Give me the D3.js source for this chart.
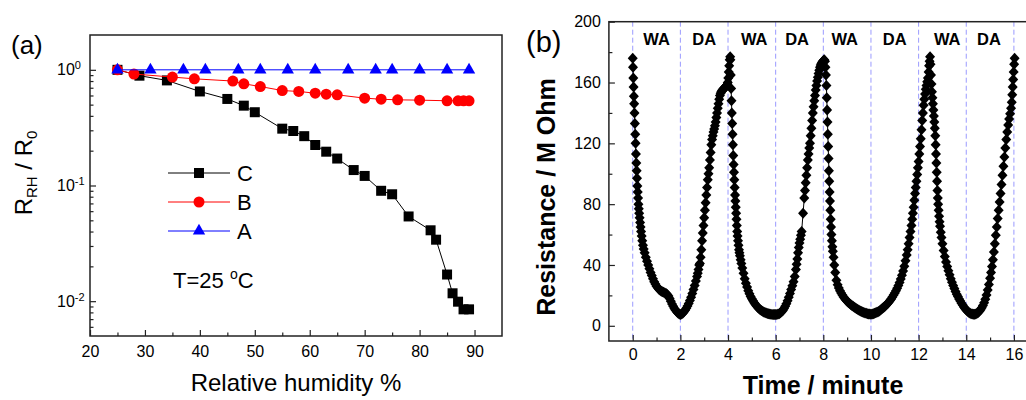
<!DOCTYPE html>
<html><head><meta charset="utf-8">
<script src="https://cdn.jsdelivr.net/npm/d3@7"></script>
<style>body{margin:0;background:#fff}svg{display:block;font-family:"Liberation Sans",Arial,sans-serif}</style>
</head><body><svg id="c" width="1026" height="400"></svg>
<script>
// ---------- Panel (a) data ----------
const humidityC = [25,29,34,40,45,48,50,55,57,59,61,63,65,68,70,73,75,78,82,83,85,86,87,88,89];
const ratioC = [1.0,0.89,0.81,0.65,0.56,0.49,0.43,0.31,0.296,0.267,0.224,0.196,0.171,0.136,0.121,0.090,0.084,0.054,0.041,0.034,0.017,0.0117,0.0099,0.0085,0.0085];
const humidityB = [25,28,35,39,46,48,51,55,58,61,63,65,70,73,76,80,85,87,88,89];
const ratioB = [1.0,0.92,0.865,0.836,0.80,0.757,0.717,0.662,0.65,0.628,0.616,0.608,0.569,0.557,0.55,0.547,0.54,0.54,0.54,0.54];
const humidityA = [25,31,37,41,47,51,56,61,67,72,75,80,85,89];
const ratioA = [1,1,1,1,1,1,1,1,1,1,1,1,1,1];
const seriesNamesA = ["C","B","A"];
const xTicksA = [20,30,40,50,60,70,80,90];
const xMinorA = [25,35,45,55,65,75,85];
const yMajorExpA = [0,-1,-2];
const yMinorA = [0.006,0.007,0.008,0.009,0.02,0.03,0.04,0.05,0.06,0.07,0.08,0.09,0.2,0.3,0.4,0.5,0.6,0.7,0.8,0.9];

// ---------- Panel (b) data: [time (min), resistance (MOhm)] ----------
const wa1 = [[0,176],[0.012,170],[0.024,163],[0.036,157],[0.048,151],[0.06,146],[0.075,140],[0.09,133],[0.105,126],[0.12,120],[0.135,113],[0.15,107],[0.165,102],[0.18,97],[0.195,92],[0.21,88],[0.225,84],[0.24,80],[0.255,77],[0.27,74],[0.29,71],[0.31,68],[0.33,65],[0.35,62],[0.375,59],[0.4,56],[0.43,53],[0.46,50.5],[0.5,48],[0.55,45],[0.6,42.5],[0.65,40],[0.7,37.5],[0.75,35],[0.8,33],[0.85,31],[0.9,29],[0.95,27.5],[1.0,26],[1.05,25],[1.1,24],[1.15,23.3],[1.2,22.8],[1.25,22.4],[1.3,22],[1.35,21.6],[1.4,21.2],[1.45,20.6],[1.5,19.6],[1.55,18],[1.6,16.2],[1.65,14.4],[1.7,12.8],[1.75,11.4],[1.8,10.2],[1.85,9.2],[1.9,8.4],[1.95,7.8]];
const da1 = [[2.0,7.5],[2.05,7.7],[2.1,8.3],[2.15,9.2],[2.2,10.3],[2.25,11.6],[2.3,13],[2.35,14.7],[2.4,16.6],[2.45,18.8],[2.5,21.2],[2.55,23.8],[2.6,26.5],[2.65,29.5],[2.7,32.5],[2.73,34.5],[2.76,37],[2.79,40],[2.82,41],[2.85,45],[2.88,50],[2.91,56],[2.94,61],[2.97,66],[3.0,71],[3.03,76],[3.06,81],[3.09,86],[3.12,91],[3.15,96],[3.18,100],[3.21,104],[3.24,109],[3.27,114],[3.3,119],[3.33,122.5],[3.36,125],[3.39,127.5],[3.42,129.5],[3.45,131.5],[3.48,134],[3.51,137],[3.54,140],[3.57,143],[3.6,146],[3.63,149],[3.66,151.5],[3.69,153],[3.72,154],[3.75,154.8],[3.78,155.4],[3.81,155.8],[3.84,156.3],[3.87,156.8],[3.9,157.2],[3.93,157.6],[3.96,158.5],[3.99,160],[4.01,163],[4.03,167],[4.05,171],[4.07,175],[4.09,177]];
const wa2 = [[4.1,175],[4.115,165],[4.13,156],[4.145,148],[4.16,140],[4.175,133],[4.19,126],[4.205,119],[4.22,112],[4.235,106],[4.25,101],[4.265,96],[4.28,91],[4.295,86],[4.31,82],[4.325,78],[4.34,74],[4.355,70],[4.37,66],[4.385,62],[4.4,59],[4.42,56],[4.44,53],[4.46,50],[4.48,48],[4.5,46],[4.53,43.5],[4.56,41],[4.6,38],[4.65,34.5],[4.7,31],[4.75,28],[4.8,25.5],[4.85,23],[4.9,21],[4.95,19.3],[5.0,17.8],[5.05,16.4],[5.1,15.1],[5.15,14],[5.2,13],[5.25,12.1],[5.3,11.3],[5.35,10.6],[5.4,10],[5.45,9.5],[5.5,9.1],[5.55,8.7],[5.6,8.4],[5.65,8.1],[5.7,7.9],[5.75,7.7],[5.8,7.6],[5.85,7.5],[5.9,7.4],[5.95,7.4]];
const da2 = [[6.0,7.4],[6.05,7.5],[6.1,7.7],[6.15,8],[6.2,8.5],[6.25,9.2],[6.3,10.1],[6.35,11.3],[6.4,12.8],[6.45,14.5],[6.5,16.5],[6.55,18.8],[6.6,21.3],[6.65,23.8],[6.7,26.3],[6.75,29],[6.8,32.5],[6.85,37],[6.88,40.5],[6.91,44],[6.94,48],[6.97,51.5],[7.0,54.5],[7.03,57],[7.06,59.5],[7.09,62],[7.15,74],[7.2,84],[7.23,89],[7.26,94],[7.29,99],[7.32,104],[7.35,109],[7.38,113],[7.41,117],[7.44,120],[7.47,125],[7.5,130],[7.53,135],[7.56,140],[7.59,144],[7.62,148],[7.65,151.5],[7.68,155],[7.71,158],[7.74,161],[7.77,163.5],[7.8,166],[7.83,168],[7.86,170],[7.89,171.5],[7.92,172.5],[7.95,173.3],[7.98,174],[8.01,174.5],[8.04,175]];
const wa3 = [[8.07,174],[8.09,170],[8.11,165],[8.13,158],[8.145,150],[8.16,142],[8.175,134],[8.19,126],[8.205,118],[8.22,110],[8.235,102],[8.25,95],[8.265,88],[8.28,82],[8.295,76],[8.31,70],[8.325,65],[8.34,60],[8.36,56],[8.38,52],[8.4,49],[8.43,45],[8.46,40],[8.5,35],[8.55,30],[8.6,27],[8.65,24.8],[8.7,23],[8.75,21.5],[8.8,20.2],[8.85,19],[8.9,18],[8.95,17],[9.0,16.2],[9.05,15.4],[9.1,14.7],[9.15,14],[9.2,13.4],[9.25,12.8],[9.3,12.2],[9.35,11.7],[9.4,11.2],[9.45,10.7],[9.5,10.2],[9.55,9.8],[9.6,9.4],[9.65,9],[9.7,8.7],[9.75,8.4],[9.8,8.2],[9.85,8],[9.9,7.8],[9.95,7.7]];
const da3 = [[10.0,7.6],[10.05,7.7],[10.1,7.9],[10.15,8.2],[10.2,8.5],[10.25,8.9],[10.3,9.3],[10.35,9.8],[10.4,10.4],[10.45,11],[10.5,11.7],[10.55,12.4],[10.6,13.1],[10.65,13.9],[10.7,14.7],[10.75,15.6],[10.8,16.6],[10.85,17.7],[10.9,18.9],[10.95,20.2],[11.0,21.6],[11.05,23.1],[11.1,24.7],[11.15,26.5],[11.2,28.5],[11.25,30.7],[11.3,33.2],[11.35,36],[11.4,39.2],[11.45,42.7],[11.5,46.5],[11.54,50],[11.58,54],[11.62,58],[11.66,62],[11.7,66],[11.73,70],[11.76,74],[11.79,78],[11.82,82.5],[11.85,87],[11.88,91],[11.91,95],[11.94,99.5],[11.97,104],[12.0,108],[12.03,113],[12.06,118],[12.09,123],[12.12,129],[12.15,135],[12.18,140],[12.21,145],[12.24,149],[12.27,152.5],[12.3,155.5],[12.33,158],[12.36,160.5],[12.39,163],[12.42,167],[12.44,171],[12.46,174],[12.48,177]];
const wa4 = [[12.5,172],[12.52,165],[12.54,159],[12.56,154],[12.58,150],[12.6,146],[12.62,142],[12.64,138],[12.66,134],[12.68,130],[12.7,125],[12.715,119],[12.73,113],[12.745,107],[12.76,101],[12.775,95],[12.79,89],[12.805,84],[12.82,80],[12.84,76],[12.86,72],[12.88,68.5],[12.9,65.5],[12.93,61.5],[12.96,58],[13.0,54],[13.05,49.5],[13.1,45.5],[13.15,42],[13.2,39],[13.25,36.2],[13.3,33.5],[13.35,31],[13.4,28.7],[13.45,26.5],[13.5,24.5],[13.55,22.6],[13.6,20.8],[13.65,19.2],[13.7,17.7],[13.75,16.3],[13.8,14.9],[13.85,13.6],[13.9,12.4],[13.95,11.3],[14.0,10.4],[14.05,9.6],[14.1,8.9],[14.15,8.4],[14.2,8],[14.25,7.7],[14.3,7.6]];
const da4 = [[14.35,7.6],[14.4,7.8],[14.45,8.2],[14.5,8.8],[14.55,9.6],[14.6,10.6],[14.65,11.8],[14.7,13.3],[14.75,15.2],[14.8,17.5],[14.85,20.2],[14.9,23.5],[14.95,27.2],[15.0,31.2],[15.04,35],[15.08,39],[15.12,43.5],[15.16,48.5],[15.2,54],[15.24,59.5],[15.28,65],[15.32,70.5],[15.36,76],[15.4,81.5],[15.44,87],[15.48,93],[15.52,99],[15.56,105],[15.6,111],[15.64,117],[15.68,122.5],[15.72,127.5],[15.76,132],[15.8,136],[15.84,139.5],[15.88,143],[15.91,147],[15.93,152],[15.95,157],[15.97,162],[15.99,167],[16.01,172],[16.03,176]];
const phaseLabels = ["WA","DA","WA","DA","WA","DA","WA","DA"];
const phaseLabelTimes = [1,3,5.1,6.9,8.9,11,13.2,14.95];
const switchTimes = [0,2,4,6,8,10,12,14,16];
const xTicksB = [0,2,4,6,8,10,12,14,16];
const xMinorB = [1,3,5,7,9,11,13,15];
const yTicksB = [0,40,80,120,160,200];
const yMinorB = [20,60,100,140,180];

// ---------- drawing ----------
const svg = d3.select("#c");
const FRAME = "#222";
const FONT_TICK = 16;

// ===== Panel (a) =====
const xA = d3.scaleLinear().domain([20,95]).range([90,502]);
const yA = d3.scaleLog().domain([0.005,2]).range([336,35]);
const gA = svg.append("g");

gA.append("rect").attr("x",xA.range()[0]).attr("y",yA.range()[1])
  .attr("width",xA.range()[1]-xA.range()[0]).attr("height",yA.range()[0]-yA.range()[1])
  .attr("fill","none").attr("stroke",FRAME).attr("stroke-width",1.5);

gA.append("g").attr("transform",`translate(0,${yA.range()[0]})`)
  .call(d3.axisBottom(xA).tickValues(xTicksA).tickSize(-6).tickPadding(10).tickFormat(d3.format("d")));
gA.append("g").attr("transform",`translate(0,${yA.range()[0]})`)
  .call(d3.axisBottom(xA).tickValues(xMinorA).tickSize(-3.5).tickFormat(""));
const ayA = gA.append("g").attr("transform",`translate(${xA.range()[0]},0)`)
  .call(d3.axisLeft(yA).tickValues(yMajorExpA.map(e=>Math.pow(10,e))).tickSize(-6).tickPadding(8).tickFormat(""));
gA.append("g").attr("transform",`translate(${xA.range()[0]},0)`)
  .call(d3.axisLeft(yA).tickValues(yMinorA).tickSize(-3.5).tickFormat(""));
ayA.selectAll(".tick text").each(function(d,i){
  const t = d3.select(this).attr("text-anchor","start").attr("x",-33).attr("dy","0.32em");
  t.append("tspan").text("10");
  t.append("tspan").attr("font-size",11).attr("dy","-0.55em").text(String(yMajorExpA[i]));
});
gA.selectAll(".domain").remove();
gA.selectAll(".tick line").attr("stroke",FRAME).attr("stroke-width",1.2);
gA.selectAll(".tick text").attr("font-size",FONT_TICK).attr("fill","#000").attr("font-family","Liberation Sans, Arial, sans-serif");

const seriesA = [
  {x:humidityC, y:ratioC, color:"#000000", sym:d3.symbolSquare, size:100},
  {x:humidityB, y:ratioB, color:"#ff0000", sym:d3.symbolCircle, size:95},
  {x:humidityA, y:ratioA, color:"#0000ff", sym:d3.symbolTriangle, size:66}
];
const lineA = d3.line().x(d=>xA(d[0])).y(d=>yA(d[1]));
seriesA.forEach(s=>{
  const pts = s.x.map((v,i)=>[v,s.y[i]]);
  gA.append("path").datum(pts).attr("d",lineA).attr("fill","none").attr("stroke",s.color).attr("stroke-width",1);
  gA.selectAll(null).data(pts).enter().append("path")
    .attr("d",d3.symbol().type(s.sym).size(s.size))
    .attr("transform",d=>`translate(${xA(d[0])},${yA(d[1])})`).attr("fill",s.color);
});

const legRowY = [173,202,231];
seriesA.forEach((s,i)=>{
  const y = legRowY[i];
  gA.append("line").attr("x1",168).attr("x2",230).attr("y1",y).attr("y2",y).attr("stroke",s.color).attr("stroke-width",1);
  gA.append("path").attr("d",d3.symbol().type(s.sym).size(s.size)).attr("transform",`translate(199,${y})`).attr("fill",s.color);
  gA.append("text").attr("x",237).attr("y",y+8).attr("font-size",22).text(seriesNamesA[i]);
});
const tAnn = gA.append("text").attr("x",173).attr("y",288).attr("font-size",22);
tAnn.append("tspan").text("T=25 ");
tAnn.append("tspan").attr("font-size",14).attr("dy",-9).text("o");
tAnn.append("tspan").attr("dy",9).text("C");

gA.append("text").attr("x",(xA.range()[0]+xA.range()[1])/2).attr("y",391).attr("text-anchor","middle").attr("font-size",24).text("Relative humidity %");
const yt = gA.append("text").attr("transform","translate(32,173) rotate(-90)").attr("text-anchor","middle").attr("font-size",24);
yt.append("tspan").text("R");
yt.append("tspan").attr("font-size",15).attr("dy",5).text("RH");
yt.append("tspan").attr("dy",-5).text(" / R");
yt.append("tspan").attr("font-size",15).attr("dy",5).text("0");
gA.append("text").attr("x",11).attr("y",54).attr("font-size",26).text("(a)");

// ===== Panel (b) =====
const xB = d3.scaleLinear().domain([-1,16.6]).range([608.9,1028.2]);
const yB = d3.scaleLinear().domain([-10,200]).range([341,21.7]);
const gB = svg.append("g");

gB.selectAll(null).data(switchTimes).enter().append("line")
  .attr("x1",d=>xB(d)).attr("x2",d=>xB(d)).attr("y1",yB.range()[1]).attr("y2",yB.range()[0])
  .attr("stroke","#9a9aff").attr("stroke-width",1).attr("stroke-dasharray","5,3");

gB.append("rect").attr("x",xB.range()[0]).attr("y",yB.range()[1])
  .attr("width",xB.range()[1]-xB.range()[0]).attr("height",yB.range()[0]-yB.range()[1])
  .attr("fill","none").attr("stroke",FRAME).attr("stroke-width",1.5);

gB.append("g").attr("transform",`translate(0,${yB.range()[0]})`)
  .call(d3.axisBottom(xB).tickValues(xTicksB).tickSize(-6).tickPadding(8).tickFormat(d3.format("d")));
gB.append("g").attr("transform",`translate(0,${yB.range()[0]})`)
  .call(d3.axisBottom(xB).tickValues(xMinorB).tickSize(-3.5).tickFormat(""));
gB.append("g").attr("transform",`translate(${xB.range()[0]},0)`)
  .call(d3.axisLeft(yB).tickValues(yTicksB).tickSize(-6).tickPadding(8).tickFormat(d3.format("d")));
gB.append("g").attr("transform",`translate(${xB.range()[0]},0)`)
  .call(d3.axisLeft(yB).tickValues(yMinorB).tickSize(-3.5).tickFormat(""));
gB.selectAll(".domain").remove();
gB.selectAll(".tick line").attr("stroke",FRAME).attr("stroke-width",1.2);
gB.selectAll(".tick text").attr("font-size",FONT_TICK).attr("fill","#000").attr("font-family","Liberation Sans, Arial, sans-serif");

gB.selectAll(null).data(phaseLabels).enter().append("text")
  .attr("x",(d,i)=>xB(phaseLabelTimes[i])).attr("y",45).attr("text-anchor","middle")
  .attr("font-size",16.5).attr("font-weight","bold").text(d=>d);

const resistance = [].concat(wa1,da1,wa2,da2,wa3,da3,wa4,da4);
gB.append("path").datum(resistance).attr("d",d3.line().x(d=>xB(d[0])).y(d=>yB(d[1])))
  .attr("fill","none").attr("stroke","#000").attr("stroke-width",1);
const diamond = {draw(ctx,size){const r=Math.sqrt(size/2);ctx.moveTo(0,-r*1.1);ctx.lineTo(r,0);ctx.lineTo(0,r*1.1);ctx.lineTo(-r,0);ctx.closePath();}};
gB.selectAll(null).data(resistance).enter().append("path")
  .attr("d",d3.symbol().type(diamond).size(50))
  .attr("transform",d=>`translate(${xB(d[0])},${yB(d[1])})`).attr("fill","#000");

gB.append("text").attr("x",823).attr("y",394).attr("text-anchor","middle").attr("font-size",25).attr("font-weight","bold").text("Time / minute");
gB.append("text").attr("transform","translate(555,197) rotate(-90)").attr("text-anchor","middle").attr("font-size",25).attr("font-weight","bold").text("Resistance / M Ohm");
gB.append("text").attr("x",526).attr("y",52).attr("font-size",29).text("(b)");
</script></body></html>
